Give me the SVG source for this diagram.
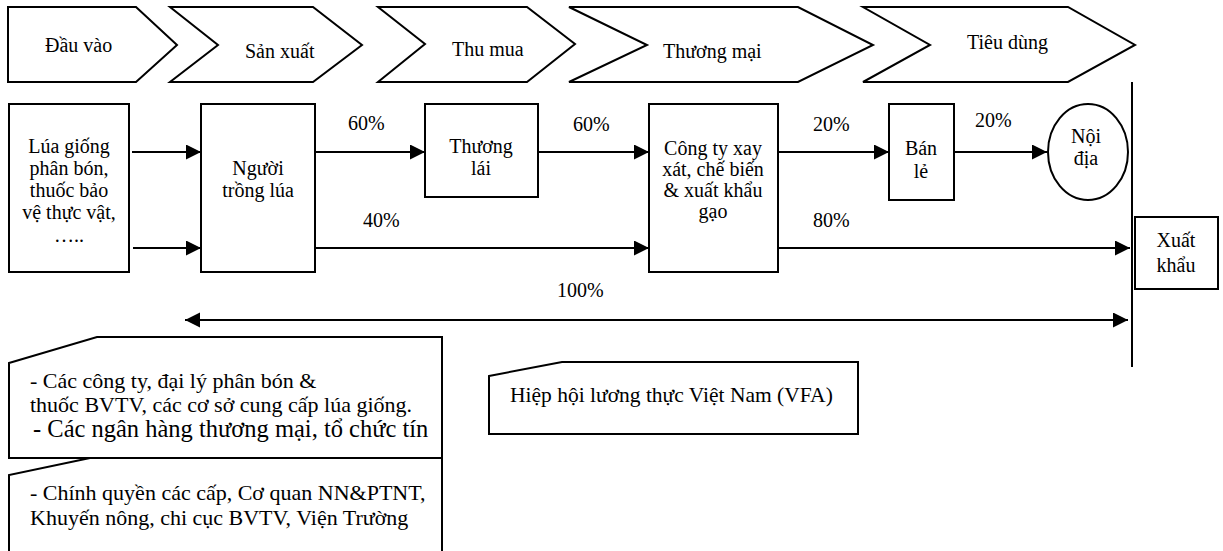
<svg xmlns="http://www.w3.org/2000/svg" width="1223" height="551" viewBox="0 0 1223 551">
<style>
.s{fill:#fff;stroke:#000;stroke-width:2}
.t{font-family:"Liberation Serif","Times New Roman",serif;font-size:20px;fill:#000}
.b{font-size:22px}
.v{font-size:21.5px}
.c{text-anchor:middle}
.ln{stroke:#000;stroke-width:2;fill:none}
</style>
<defs>
<marker id="ah" markerUnits="userSpaceOnUse" markerWidth="16" markerHeight="16" refX="15" refY="7.5" orient="auto-start-reverse">
<path d="M0,0 L15,7.5 L0,15 Z" fill="#000"/>
</marker>
</defs>
<rect width="1223" height="551" fill="#fff"/>
<g id="stages">
<g id="stage-dauvao"><polygon class="s" points="8,7 136,7 177,45 136,82 8,82"/><text class="t" x="45" y="52">Đầu vào</text></g>
<g id="stage-sanxuat"><polygon class="s" points="170,7 313,7 362,45 313,82 170,82 218,45"/><text class="t" x="245" y="58">Sản xuất</text></g>
<g id="stage-thumua"><polygon class="s" points="378,7 527,7 575,44 527,82 378,82 425,44"/><text class="t" x="452" y="56">Thu mua</text></g>
<g id="stage-thuongmai"><polygon class="s" points="569,7 798,7 873,45 798,82 569,82 647,45"/><text class="t" x="663" y="58">Thương mại</text></g>
<g id="stage-tieudung"><polygon class="s" points="863,7 1068,7 1135,45 1068,82 863,82 930,45"/><text class="t" x="967" y="49">Tiêu dùng</text></g>
</g>
<g id="connectors">
<line class="ln" x1="1132" y1="82" x2="1132" y2="367"/>
<line class="ln" x1="132" y1="152" x2="201" y2="152" marker-end="url(#ah)"/>
<line class="ln" x1="133" y1="248" x2="201" y2="248" marker-end="url(#ah)"/>
<line class="ln" x1="315" y1="152" x2="425" y2="152" stroke-width="3" marker-end="url(#ah)"/>
<line class="ln" x1="538" y1="152" x2="649" y2="152" marker-end="url(#ah)"/>
<line class="ln" x1="315" y1="248" x2="649" y2="248" marker-end="url(#ah)"/>
<line class="ln" x1="778" y1="152" x2="889" y2="152" marker-end="url(#ah)"/>
<line class="ln" x1="954" y1="152" x2="1047" y2="152" marker-end="url(#ah)"/>
<line class="ln" x1="778" y1="248" x2="1130" y2="248" marker-end="url(#ah)"/>
<line class="ln" x1="185" y1="320" x2="1128" y2="320" marker-start="url(#ah)" marker-end="url(#ah)"/>
<text class="t" x="348" y="130">60%</text>
<text class="t" x="363" y="227">40%</text>
<text class="t" x="573" y="131">60%</text>
<text class="t" x="813" y="131">20%</text>
<text class="t" x="975" y="127">20%</text>
<text class="t" x="813" y="227">80%</text>
<text class="t" x="557" y="297">100%</text>
</g>
<g id="node-inputs"><rect class="s" x="9" y="104" width="120" height="168"/>
<text class="t c"><tspan x="69" y="153">Lúa giống</tspan><tspan x="69" y="175">phân bón,</tspan><tspan x="69" y="197">thuốc bảo</tspan><tspan x="69" y="219">vệ thực vật,</tspan><tspan x="69" y="242">…..</tspan></text></g>
<g id="node-farmer"><rect class="s" x="201" y="104" width="114" height="168"/>
<text class="t c"><tspan x="258" y="175">Người</tspan><tspan x="258" y="197">trồng lúa</tspan></text></g>
<g id="node-trader"><rect class="s" x="425" y="104" width="113" height="93"/>
<text class="t c"><tspan x="481" y="153">Thương</tspan><tspan x="481" y="175">lái</tspan></text></g>
<g id="node-company"><rect class="s" x="649" y="104" width="129" height="168"/>
<text class="t c"><tspan x="713" y="155">Công ty xay</tspan><tspan x="713" y="176">xát, chế biến</tspan><tspan x="713" y="197">&amp; xuất khẩu</tspan><tspan x="713" y="218">gạo</tspan></text></g>
<g id="node-retail"><rect class="s" x="889" y="104" width="65" height="96"/>
<text class="t c"><tspan x="921" y="155">Bán</tspan><tspan x="921" y="178">lẻ</tspan></text></g>
<g id="node-domestic"><ellipse class="s" cx="1088" cy="152" rx="40" ry="48"/>
<text class="t c"><tspan x="1086" y="143">Nội</tspan><tspan x="1086" y="165">địa</tspan></text></g>
<g id="node-export"><rect class="s" x="1135" y="217" width="83" height="72"/>
<text class="t c"><tspan x="1176" y="247">Xuất</tspan><tspan x="1176" y="272">khẩu</tspan></text></g>
<g id="node-suppliers"><polygon class="s" points="9,363 97,337 442,337 442,458 9,458"/>
<text class="t b"><tspan x="30" y="388">- Các công ty, đại lý phân bón &amp;</tspan><tspan x="30" y="412">thuốc BVTV, các cơ sở cung cấp lúa giống.</tspan><tspan x="33" y="437" font-size="24.5">- Các ngân hàng thương mại, tổ chức tín</tspan></text></g>
<g id="node-government"><polygon class="s" points="9,560 9,475 90,458 442,458 442,560"/>
<text class="t b"><tspan x="30" y="500">- Chính quyền các cấp, Cơ quan NN&amp;PTNT,</tspan><tspan x="30" y="525">Khuyến nông, chi cục BVTV, Viện Trường</tspan></text></g>
<g id="node-vfa"><polygon class="s" points="489,376 562,362 858,362 858,434 489,434"/>
<text class="t v" x="510" y="402">Hiệp hội lương thực Việt Nam (VFA)</text></g>
</svg>
